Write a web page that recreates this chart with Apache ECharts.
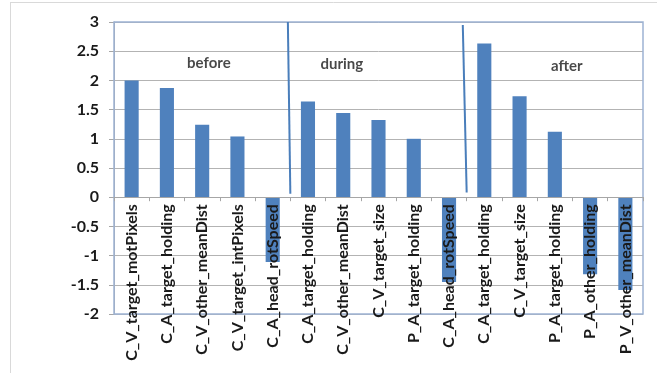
<!DOCTYPE html>
<html>
<head>
<meta charset="utf-8">
<script src="https://cdn.jsdelivr.net/npm/echarts@6/dist/echarts.min.js"></script>
<style>
html,body{margin:0;padding:0;background:#fff;}
#chart{width:657px;height:373px;}
</style>
</head>
<body>
<div id="chart"></div>
<script>
const categories = [
  'C_V_target_motPixels','C_A_target_holding','C_V_other_meanDist','C_V_target_intPixels','C_A_head_rotSpeed',
  'C_A_target_holding','C_V_other_meanDist','C_V_target_size','P_A_target_holding','C_A_head_rotSpeed',
  'C_A_target_holding','C_V_target_size','P_A_target_holding','P_A_other_holding','P_V_other_meanDist'
];
const values = [2.0, 1.87, 1.24, 1.04, -1.11, 1.64, 1.44, 1.32, 1.0, -1.45, 2.63, 1.73, 1.12, -1.32, -1.59];
const phaseNames = ['before', 'during', 'after'];
const phasePositions = [[2.69, 2.29], [6.46, 2.27], [12.84, 2.25]];
const dividerA = [[4.93, 3.0], [5.0, 0.06]];
const dividerB = [[9.89, 2.95], [10.0, 0.08]];
const yMin = -2, yMax = 3;

const GRID_TOP = 22, GRID_BOTTOM = 59, H = 373;
const plotH = H - GRID_TOP - GRID_BOTTOM;
// shift the category axis up from the grid bottom to the zero line
const zeroOffset = -plotH * (0 - yMin) / (yMax - yMin);

const chart = echarts.init(document.getElementById('chart'), null, {renderer: 'canvas'});
const FONT = 'Lato';
chart.setOption({
  animation: false,
  backgroundColor: '#ffffff',
  graphic: [
    {type: 'line', shape: {x1: 10, y1: 2.5, x2: 657, y2: 2.5}, style: {stroke: '#d9d9d9', lineWidth: 1}},
    {type: 'line', shape: {x1: 10.5, y1: 2, x2: 10.5, y2: 373}, style: {stroke: '#d9d9d9', lineWidth: 1}}
  ],
  grid: {left: 114, right: 14, top: GRID_TOP, bottom: GRID_BOTTOM, show: true, z: 1, borderColor: '#9db3d3', borderWidth: 1.5, containLabel: false, outerBoundsMode: 'none'},
  xAxis: [
    {
      type: 'category', data: categories, z: 5, position: 'bottom', offset: zeroOffset,
      axisLine: {onZero: false, lineStyle: {color: '#a6a6a6', width: 1}},
      axisTick: {show: true, length: 4, lineStyle: {color: '#a6a6a6'}},
      axisLabel: {rotate: 90, margin: 7, fontFamily: FONT, fontWeight: 'bold', fontSize: 16, color: '#1a1a1a', interval: 0, hideOverlap: false}
    },
    {type: 'value', min: 0, max: 15, show: false, position: 'top'}
  ],
  yAxis: {
    type: 'value', min: yMin, max: yMax, interval: 0.5, z: 0,
    axisLine: {show: true, lineStyle: {color: '#a6a6a6'}},
    axisTick: {show: true, length: 5, lineStyle: {color: '#a6a6a6'}},
    splitLine: {show: true, lineStyle: {color: '#b3b3b3', width: 1}},
    axisLabel: {margin: 15, fontFamily: FONT, fontWeight: 'bold', fontSize: 16, color: '#1a1a1a'}
  },
  series: [
    {type: 'bar', data: values, xAxisIndex: 0, barWidth: '40%', itemStyle: {color: '#4f81bd'}, z: 2},
    {type: 'line', xAxisIndex: 1, data: dividerA, symbol: 'none', lineStyle: {color: '#4a7ebb', width: 2}, z: 3},
    {type: 'line', xAxisIndex: 1, data: dividerB, symbol: 'none', lineStyle: {color: '#4a7ebb', width: 2}, z: 3},
    {
      type: 'scatter', xAxisIndex: 1, symbolSize: 0, z: 4,
      data: phasePositions.map((p, i) => ({value: p, name: phaseNames[i]})),
      label: {show: true, position: 'inside', formatter: p => p.name, fontFamily: FONT, fontWeight: 'bold', fontSize: 15, color: '#1a1a1a'}
    }
  ]
});
</script>
</body>
</html>
